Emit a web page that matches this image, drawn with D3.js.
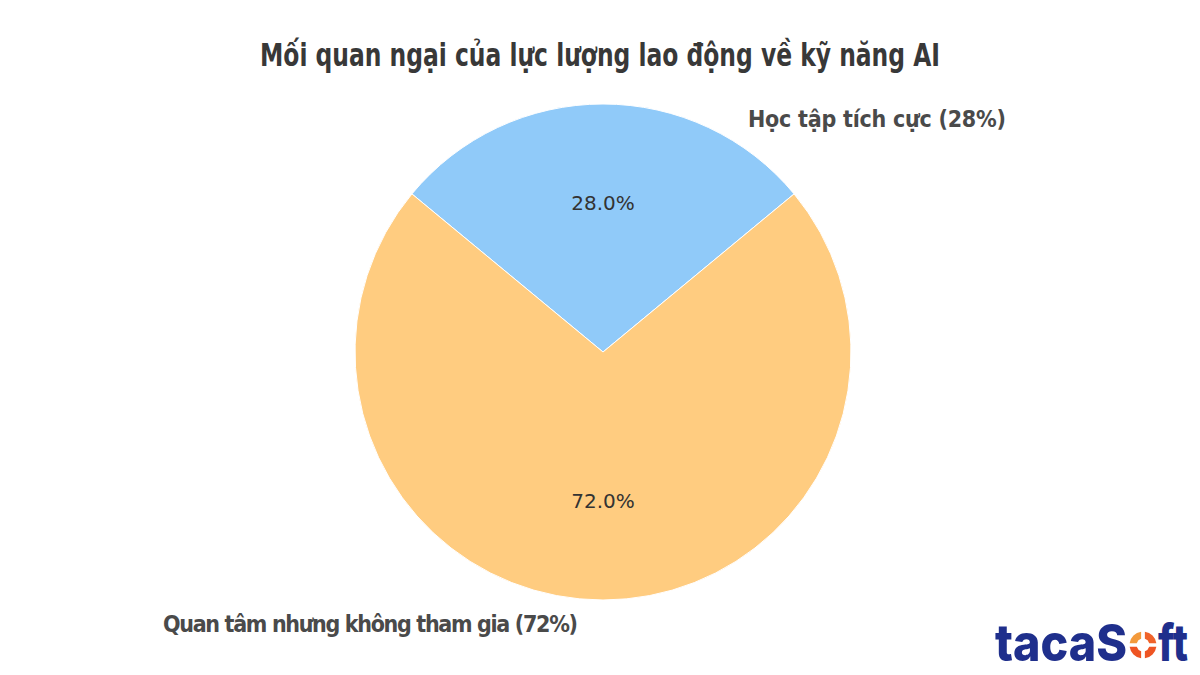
<!DOCTYPE html>
<html><head><meta charset="utf-8">
<script src="https://cdn.jsdelivr.net/npm/d3@7"></script>
<style>html,body{margin:0;padding:0;background:#fff;}svg{display:block;}</style>
</head><body>
<svg id="chart" width="1200" height="675"></svg>
<script>
const categories = ["Học tập tích cực (28%)", "Quan tâm nhưng không tham gia (72%)"];
const values = [28, 72];
const colors = ["#90CAF9", "#FFCC80"];
const title = "Mối quan ngại của lực lượng lao động về kỹ năng AI";

const svg = d3.select("#chart");
const W = 1200, H = 675;
const cx = 603, cy = 352, R = 248;

svg.append("rect").attr("width", W).attr("height", H).attr("fill", "#fff");

svg.append("text")
  .attr("x", 600).attr("y", 66)
  .attr("text-anchor", "middle")
  .attr("font-family", "'Liberation Sans Narrow','DejaVu Sans Condensed',sans-serif")
  .attr("font-weight", "bold")
  .attr("font-size", 32)
  .attr("fill", "#383838")
  .attr("textLength", 680).attr("lengthAdjust", "spacingAndGlyphs")
  .text(title);

const half = values[0] / d3.sum(values) * Math.PI;
const pie = d3.pie().sort(null).value(d => d)
  .startAngle(-half).endAngle(2 * Math.PI - half);
const arcs = pie(values);
const arc = d3.arc().innerRadius(0).outerRadius(R);
const labelArc = d3.arc().innerRadius(R * 0.6).outerRadius(R * 0.6);

const g = svg.append("g").attr("transform", `translate(${cx},${cy})`);
g.selectAll("path").data(arcs).enter().append("path")
  .attr("d", arc)
  .attr("fill", (d, i) => colors[i])
  .attr("stroke", "#fff").attr("stroke-width", 1);

g.selectAll("text.pct").data(arcs).enter().append("text")
  .attr("class", "pct")
  .attr("transform", d => {
    const [x, y] = labelArc.centroid(d);
    return `translate(${x},${y})`;
  })
  .attr("text-anchor", "middle").attr("dy", "0.35em")
  .attr("font-family", "'DejaVu Sans',sans-serif")
  .attr("font-size", 20)
  .attr("fill", "#333")
  .text(d => (d.data / d3.sum(values) * 100).toFixed(1) + "%");

// outer labels
const outer = [
  {x: 748, y: 127, len: 258},
  {x: 163, y: 632, len: 415}
];
svg.selectAll("text.cat").data(categories).enter().append("text")
  .attr("class", "cat")
  .attr("x", (d, i) => outer[i].x).attr("y", (d, i) => outer[i].y)
  .attr("font-family", "'Liberation Sans Narrow','DejaVu Sans Condensed',sans-serif")
  .attr("font-weight", "bold")
  .attr("font-size", 23)
  .attr("fill", "#4a4a4a")
  .attr("textLength", (d, i) => outer[i].len).attr("lengthAdjust", "spacing")
  .text(d => d);

// logo
const logo = svg.append("g");
const logoFont = "Inter, 'DejaVu Sans', sans-serif";
logo.append("text")
  .attr("x", 995).attr("y", 661)
  .attr("font-family", logoFont).attr("font-weight", 800).attr("font-size", 51)
  .attr("fill", "#1f2f8c")
  .attr("textLength", 132).attr("lengthAdjust", "spacingAndGlyphs")
  .text("tacaS");
const ring = d3.arc().innerRadius(6.5).outerRadius(13.5).padAngle(0.25);
const ringColors = ["#f0632a", "#ee5423", "#ee5423", "#f39a3c"];
logo.append("g").attr("transform", "translate(1143,645)")
  .selectAll("path").data(d3.range(4)).enter().append("path")
  .attr("d", i => ring({startAngle: i * Math.PI / 2, endAngle: (i + 1) * Math.PI / 2}))
  .attr("fill", i => ringColors[i]);
logo.append("text")
  .attr("x", 1158).attr("y", 661)
  .attr("font-family", logoFont).attr("font-weight", 800).attr("font-size", 51)
  .attr("fill", "#1f2f8c")
  .attr("textLength", 30).attr("lengthAdjust", "spacingAndGlyphs")
  .text("ft");
</script>
</body></html>
